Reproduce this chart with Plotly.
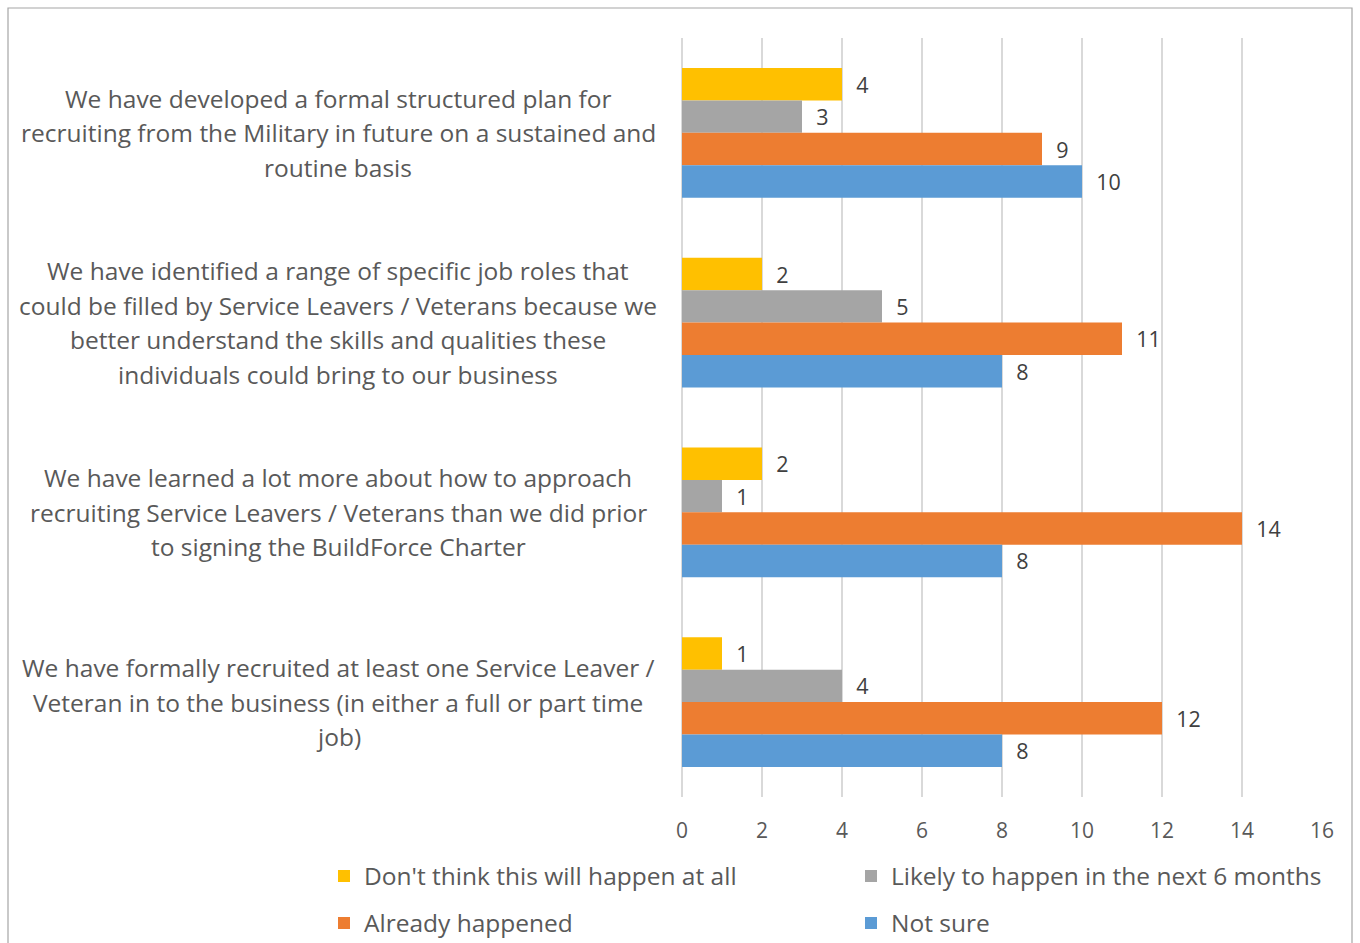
import plotly.graph_objects as go

# Survey statements (top to bottom)
categories = [
    "We have developed a formal structured plan for<br>recruiting from the Military in future on a sustained and<br>routine basis",
    "We have identified a range of specific job roles that<br>could be filled by Service Leavers / Veterans because we<br>better understand the skills and qualities these<br>individuals could bring to our business",
    "We have learned a lot more about how to approach<br>recruiting Service Leavers / Veterans than we did prior<br>to signing the BuildForce Charter",
    "We have formally recruited at least one Service Leaver /<br>Veteran in to the business (in either a full or part time<br>job)",
]

series_names = [
    "Don't think this will happen at all",
    "Likely to happen in the next 6 months",
    "Already happened",
    "Not sure",
]
dont_think = [4, 2, 2, 1]
likely_6m = [3, 5, 1, 4]
already = [9, 11, 14, 12]
not_sure = [10, 8, 8, 8]

colors = ["#FFC000", "#A5A5A5", "#ED7D31", "#5B9BD5"]
legends = ["legend", "legend", "legend2", "legend2"]

W, H = 1360, 943
FONT = "Open Sans"
cat_keys = [f"c{i}" for i in range(len(categories))]

fig = go.Figure()
for name, vals, col, lg in zip(series_names, [dont_think, likely_6m, already, not_sure], colors, legends):
    fig.add_trace(go.Bar(
        y=cat_keys, x=vals, name=name, orientation="h",
        marker=dict(color=col, line=dict(width=0)),
        text=[f"\u00a0\u00a0{v}" for v in vals],
        textposition="outside", cliponaxis=False,
        textfont=dict(family=FONT, size=21.5, color="#404040"),
        legend=lg,
    ))

# Category labels, centred on each group, one annotation per text line
line_gap = 34.5
for key, label in zip(cat_keys, categories):
    lines = label.split("<br>")
    n = len(lines)
    for k, ln in enumerate(lines):
        fig.add_annotation(
            xref="paper", yref="y", x=338 / W, y=key,
            xanchor="center", yanchor="middle",
            yshift=((n - 1) / 2 - k) * line_gap,
            text=ln, showarrow=False,
            font=dict(family=FONT, size=24.5, color="#595959"),
        )

# Outer chart frame
fig.add_shape(type="rect", xref="paper", yref="paper",
              x0=8 / W, x1=1352 / W, y0=-0.05, y1=1 - 8 / H,
              line=dict(color="#A6A6A6", width=1.2), fillcolor="rgba(0,0,0,0)",
              layer="below")

fig.update_layout(
    width=W, height=H,
    margin=dict(l=0, r=0, t=0, b=0, autoexpand=False),
    paper_bgcolor="white", plot_bgcolor="white",
    barmode="group", bargap=0.317, bargroupgap=0,
    font=dict(family=FONT, color="#595959"),
    xaxis=dict(
        domain=[682 / W, 1322 / W], range=[0, 16], dtick=2,
        showgrid=True, gridcolor="#D9D9D9", gridwidth=1.5,
        zeroline=True, zerolinecolor="#D9D9D9", zerolinewidth=1.5,
        showline=False, ticks="outside", ticklen=15, tickcolor="rgba(0,0,0,0)",
        tickfont=dict(family=FONT, size=21, color="#595959"), automargin=False,
    ),
    yaxis=dict(
        domain=[1 - 797 / H, 1 - 38 / H], autorange="reversed",
        showticklabels=False, showgrid=False, zeroline=False, automargin=False,
    ),
    legend=dict(
        orientation="h", x=324 / W, y=1 - 876 / H, xanchor="left", yanchor="middle",
        entrywidth=482, entrywidthmode="pixels",
        font=dict(family=FONT, size=24.5, color="#595959"), bgcolor="rgba(0,0,0,0)",
    ),
    legend2=dict(
        orientation="h", x=324 / W, y=1 - 923 / H, xanchor="left", yanchor="middle",
        entrywidth=482, entrywidthmode="pixels",
        font=dict(family=FONT, size=24.5, color="#595959"), bgcolor="rgba(0,0,0,0)",
    ),
    showlegend=True,
)

fig.write_html("out.html")
